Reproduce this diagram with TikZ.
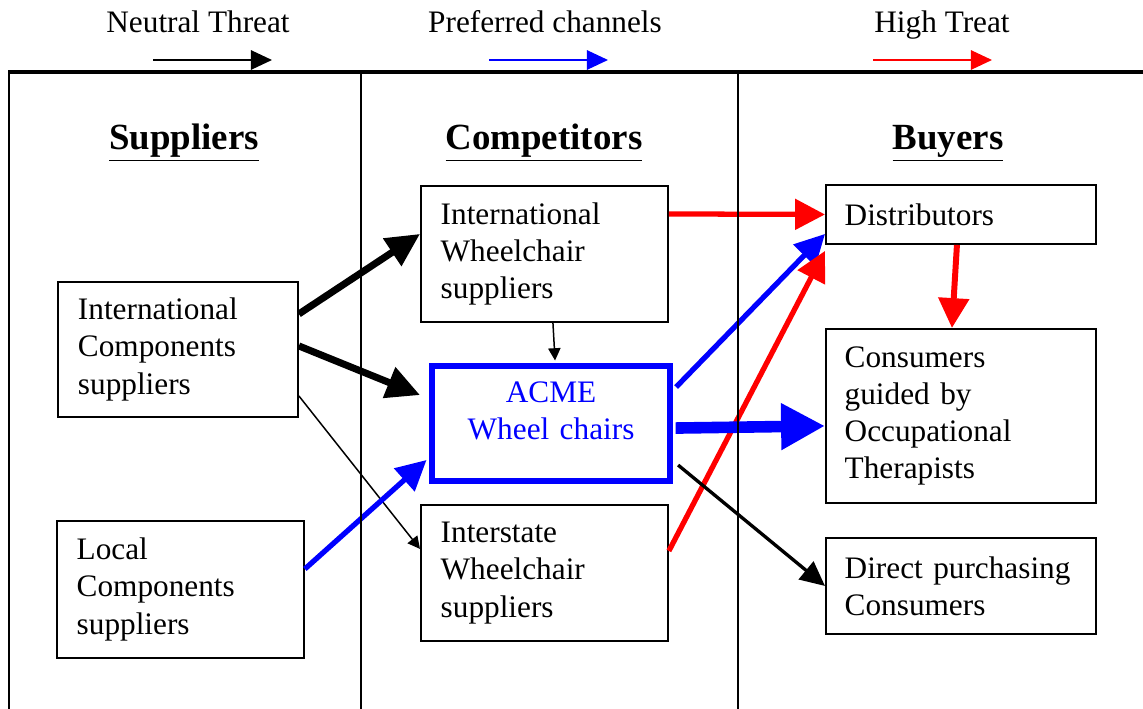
\documentclass[tikz,border=0pt]{standalone}
\usepackage{fontspec}
\setmainfont{Liberation Serif}
\usetikzlibrary{arrows.meta,positioning}

\begin{document}
\begin{tikzpicture}[x=0.02cm,y=-0.02cm,font=\fontsize{17.8}{21.2}\selectfont]
\tikzset{
    %Define style for boxes
    boks/.style={
           rectangle,
           draw=black, line width=1.1pt,
           anchor=north west,
           align=left,
           inner xsep=0.36cm,
           inner ysep=0pt},
    %Define style for column titles
    titel/.style={
           anchor=base,
           font=\fontsize{21}{25}\selectfont\bfseries},
    % Define arrow styles
    pil/.style={line width=1.1pt, -{Triangle[length=12pt,width=11pt]}},
    tyndpil/.style={line width=0.85pt, -{Triangle[length=7pt,width=7pt]}},
    tykpil/.style={line width=4pt, -{Triangle[length=19pt,width=18pt]}},
    midpil/.style={line width=3pt, -{Triangle[length=17pt,width=17pt]}},
    kanalpil/.style={line width=6.6pt, -{Triangle[length=25pt,width=25pt]}},
}
	\path[use as bounding box] (0,0) rectangle (1143,709);

 %legend
	\node[anchor=base] (neutral) at (198,33) {Neutral Threat};
	\node[anchor=base] (foretrukne) at (545,33) {Preferred channels};
	\node[anchor=base] (hoej) at (942,33) {High Treat};
	\coordinate (n1) at (153,60);
	\coordinate (n2) at (272,60);
	\coordinate (p1) at (489,60);
	\coordinate (p2) at (608,60);
	\coordinate (h1) at (873,60);
	\coordinate (h2) at (992,60);

 %column titles
	\node[titel] (suppliers) at (184,150) {\underline{Suppliers}};
	\node[titel] (competitors) at (544,150) {\underline{Competitors}};
	\node[titel] (buyers) at (948,150) {\underline{Buyers}};

 %nodes
	\node[boks,minimum width=4.8cm,minimum height=2.7cm,text width=4cm] (intkomp) at (57,281) {International\\Components\\suppliers};

	\node[boks,minimum width=4.94cm,minimum height=2.74cm,text width=4.15cm] (lokal) at (56,520) {Local\\Components\\suppliers};

	\node[boks,minimum width=4.94cm,minimum height=2.72cm,text width=4.15cm] (intwheel) at (420,185) {International\\Wheelchair\\suppliers};

	\node[boks,draw=blue,text=blue,line width=3.5pt,align=center,minimum width=4.76cm,minimum height=2.3cm,text width=3.9cm,text depth=1.25cm] (acme) at (429,363) {ACME\\Wheel chairs};

	\node[boks,minimum width=4.94cm,minimum height=2.72cm,text width=4.15cm] (interstate) at (420,504) {Interstate\\Wheelchair\\suppliers};

	\node[boks,minimum width=5.4cm,minimum height=1.18cm,text width=4.65cm] (dist) at (825,184) {Distributors};

	\node[boks,minimum width=5.4cm,minimum height=3.48cm,text width=4.65cm] (cons) at (825,328) {Consumers\\guided by\\Occupational\\Therapists};

	\node[boks,minimum width=5.4cm,minimum height=1.92cm,text width=4.65cm] (direct) at (825,537) {Direct purchasing\\Consumers};

 %arrows
	\path (n1) edge[pil] (n2);
	\path (p1) edge[pil,blue] (p2);
	\path (h1) edge[pil,red] (h2);

	\path ([yshift=0.71cm]intkomp.east) edge[tykpil] ([yshift=0.4cm]intwheel.west);
	\path ([yshift=0.07cm]intkomp.east) edge[tykpil] ([xshift=-0.18cm,yshift=0.57cm]acme.west);
	\path ([yshift=-0.93cm]intkomp.east) edge[tyndpil] ([yshift=0.48cm]interstate.west);
	\path ([yshift=0.41cm]lokal.east) edge[midpil,blue] ([xshift=-0.05cm,yshift=-0.73cm]acme.west);
	\path ([xshift=0.17cm]intwheel.south) edge[tyndpil] ([xshift=0.08cm,yshift=0.05cm]acme.north);
	\path ([yshift=0.8cm]intwheel.east) edge[midpil,red] (dist.west);
	\path ([xshift=0.06cm,yshift=0.73cm]acme.east) edge[midpil,blue] ([yshift=-0.39cm]dist.west);
	\path ([yshift=0.44cm]interstate.east) edge[midpil,red] ([yshift=-0.12cm]dist.south west);
	\path ([xshift=0.05cm,yshift=-0.09cm]acme.east) edge[kanalpil,blue] ([yshift=-0.2cm]cons.west);
	\path ([xshift=0.1cm,yshift=-0.83cm]acme.east) edge[line width=1.9pt,-{Triangle[length=14pt,width=13pt]}] (direct.west);
	\path ([xshift=-0.08cm]dist.south) edge[line width=3.4pt,red,-{Triangle[length=17pt,width=17pt]}] ([xshift=-0.18cm]cons.north);

 %frame lines
	\draw[line width=2.3pt] (8,72) -- (1143,72);
	\foreach \x in {9,361,738}
		\draw[line width=1.5pt] (\x,72) -- (\x,709);

\end{tikzpicture}
\end{document}
